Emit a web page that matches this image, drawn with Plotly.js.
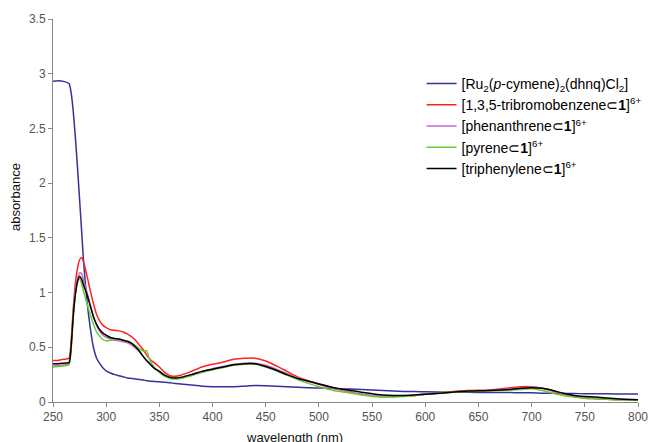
<!DOCTYPE html>
<html>
<head>
<meta charset="utf-8">
<script src="https://cdn.plot.ly/plotly-3.0.1.min.js"></script>
<style>
html,body{margin:0;padding:0;background:#fff;}
#chart{width:651px;height:442px;}
</style>
</head>
<body>
<div id="chart"></div>
<script>
// wavelength grid (nm)
const wavelength = [250,255,260,265,267,269,271,273,275,277,279,282,285,288,291,294,297,300,304,308,312,316,320,324,328,332,335,338,341,345,350,355,360,365,370,380,390,400,410,420,430,440,450,460,470,480,490,500,510,520,530,540,550,560,570,580,590,600,620,640,660,680,690,700,710,720,730,740,750,760,780,800];

const seriesNames = [
  "[Ru<sub>2</sub>(<i>p</i>-cymene)<sub>2</sub>(dhnq)Cl<sub>2</sub>]",
  "[1,3,5-tribromobenzene\u2282<b>1</b>]<sup>6+</sup>",
  "[phenanthrene\u2282<b>1</b>]<sup>6+</sup>",
  "[pyrene\u2282<b>1</b>]<sup>6+</sup>",
  "[triphenylene\u2282<b>1</b>]<sup>6+</sup>"
];

const ruComplex = [2.93,2.935,2.93,2.91,2.83,2.66,2.42,2.15,1.85,1.55,1.25,0.92,0.68,0.5,0.4,0.35,0.31,0.285,0.265,0.25,0.24,0.23,0.22,0.215,0.21,0.205,0.2,0.195,0.19,0.188,0.185,0.18,0.175,0.17,0.165,0.155,0.145,0.14,0.14,0.14,0.145,0.15,0.148,0.143,0.14,0.135,0.13,0.128,0.125,0.12,0.118,0.115,0.11,0.105,0.1,0.097,0.095,0.094,0.09,0.088,0.087,0.086,0.085,0.085,0.08,0.079,0.078,0.077,0.076,0.075,0.074,0.073];

const tribromobenzene = [0.38,0.38,0.39,0.40,0.55,0.85,1.08,1.22,1.30,1.32,1.27,1.15,1.02,0.90,0.80,0.74,0.70,0.68,0.66,0.655,0.65,0.64,0.62,0.595,0.56,0.51,0.475,0.43,0.39,0.36,0.32,0.27,0.24,0.235,0.245,0.28,0.32,0.345,0.365,0.39,0.40,0.40,0.375,0.33,0.28,0.23,0.195,0.165,0.14,0.115,0.09,0.07,0.058,0.05,0.05,0.055,0.06,0.07,0.09,0.105,0.11,0.13,0.14,0.14,0.125,0.1,0.07,0.05,0.035,0.03,0.02,0.02];

const phenanthrene = [0.33,0.335,0.34,0.35,0.5,0.8,1.01,1.13,1.18,1.17,1.1,1.0,0.89,0.78,0.7,0.645,0.61,0.59,0.575,0.565,0.56,0.55,0.54,0.52,0.49,0.45,0.41,0.375,0.345,0.31,0.275,0.24,0.225,0.22,0.225,0.25,0.28,0.305,0.325,0.345,0.355,0.355,0.335,0.30,0.26,0.22,0.19,0.16,0.13,0.11,0.09,0.07,0.06,0.05,0.05,0.055,0.06,0.07,0.085,0.1,0.105,0.12,0.13,0.135,0.125,0.1,0.075,0.055,0.04,0.035,0.025,0.02];

const pyrene = [0.32,0.325,0.33,0.34,0.48,0.78,0.98,1.09,1.13,1.08,1.0,0.9,0.8,0.71,0.64,0.6,0.57,0.56,0.565,0.575,0.575,0.565,0.55,0.535,0.51,0.48,0.465,0.47,0.38,0.32,0.27,0.235,0.215,0.21,0.215,0.24,0.27,0.295,0.315,0.335,0.345,0.345,0.32,0.285,0.245,0.205,0.17,0.14,0.115,0.095,0.08,0.065,0.05,0.045,0.045,0.05,0.06,0.07,0.085,0.095,0.1,0.11,0.115,0.12,0.105,0.08,0.06,0.045,0.035,0.03,0.02,0.015];

const triphenylene = [0.35,0.35,0.355,0.36,0.5,0.78,0.98,1.1,1.15,1.12,1.06,0.98,0.88,0.78,0.71,0.66,0.63,0.61,0.59,0.58,0.575,0.565,0.555,0.535,0.5,0.455,0.415,0.38,0.35,0.31,0.28,0.245,0.225,0.22,0.225,0.25,0.28,0.30,0.32,0.34,0.35,0.35,0.325,0.29,0.25,0.215,0.19,0.165,0.14,0.12,0.105,0.09,0.075,0.065,0.06,0.06,0.065,0.07,0.085,0.1,0.105,0.115,0.125,0.13,0.125,0.105,0.08,0.06,0.05,0.045,0.03,0.02];

const seriesValues = [ruComplex, tribromobenzene, phenanthrene, pyrene, triphenylene];
const seriesColors = ["#333399", "#ff2222", "#cc66cc", "#66cc33", "#000000"];

const xTickVals = [250,300,350,400,450,500,550,600,650,700,750,800];
const yTickVals = [0,0.5,1,1.5,2,2.5,3,3.5];
const yTickText = ["0","0.5","1","1.5","2","2.5","3","3.5"];

const traces = seriesValues.map((vals, i) => ({
  x: wavelength,
  y: vals,
  type: "scatter",
  mode: "lines",
  name: seriesNames[i],
  line: {color: seriesColors[i], width: 1.5, shape: "spline", smoothing: 0.6}
}));

const fontFam = "'Liberation Sans', Arial, sans-serif";

const layout = {
  width: 651,
  height: 442,
  margin: {l: 53, r: 13, t: 19, b: 40, autoexpand: false},
  paper_bgcolor: "#ffffff",
  plot_bgcolor: "#ffffff",
  font: {family: fontFam, size: 12, color: "#000"},
  showlegend: true,
  legend: {
    x: 0.63, y: 0.872, xanchor: "left", yanchor: "top",
    bgcolor: "rgba(0,0,0,0)",
    font: {family: fontFam, size: 14, color: "#000"},
    itemwidth: 30
  },
  xaxis: {
    range: [250, 800],
    tickvals: xTickVals,
    showgrid: false, zeroline: false,
    showline: true, linecolor: "#888", linewidth: 1,
    ticks: "outside", ticklen: 4, tickcolor: "#888",
    tickfont: {family: fontFam, size: 12, color: "#555"}
  },
  yaxis: {
    range: [0, 3.5],
    tickvals: yTickVals, ticktext: yTickText,
    showgrid: false, zeroline: false,
    showline: true, linecolor: "#888", linewidth: 1,
    ticks: "outside", ticklen: 4, tickcolor: "#888",
    tickfont: {family: fontFam, size: 12, color: "#555"}
  },
  annotations: [
    {text: "wavelength (nm)", xref: "paper", yref: "paper", x: 0.412, y: -0.0914,
     xanchor: "center", yanchor: "middle", showarrow: false,
     font: {family: fontFam, size: 13, color: "#111"}},
    {text: "absorbance", xref: "paper", yref: "paper", x: -0.065, y: 0.535,
     xanchor: "center", yanchor: "middle", showarrow: false, textangle: -90,
     font: {family: fontFam, size: 13, color: "#111"}}
  ]
};

Plotly.newPlot("chart", traces, layout, {staticPlot: true, displayModeBar: false});
</script>
</body>
</html>
